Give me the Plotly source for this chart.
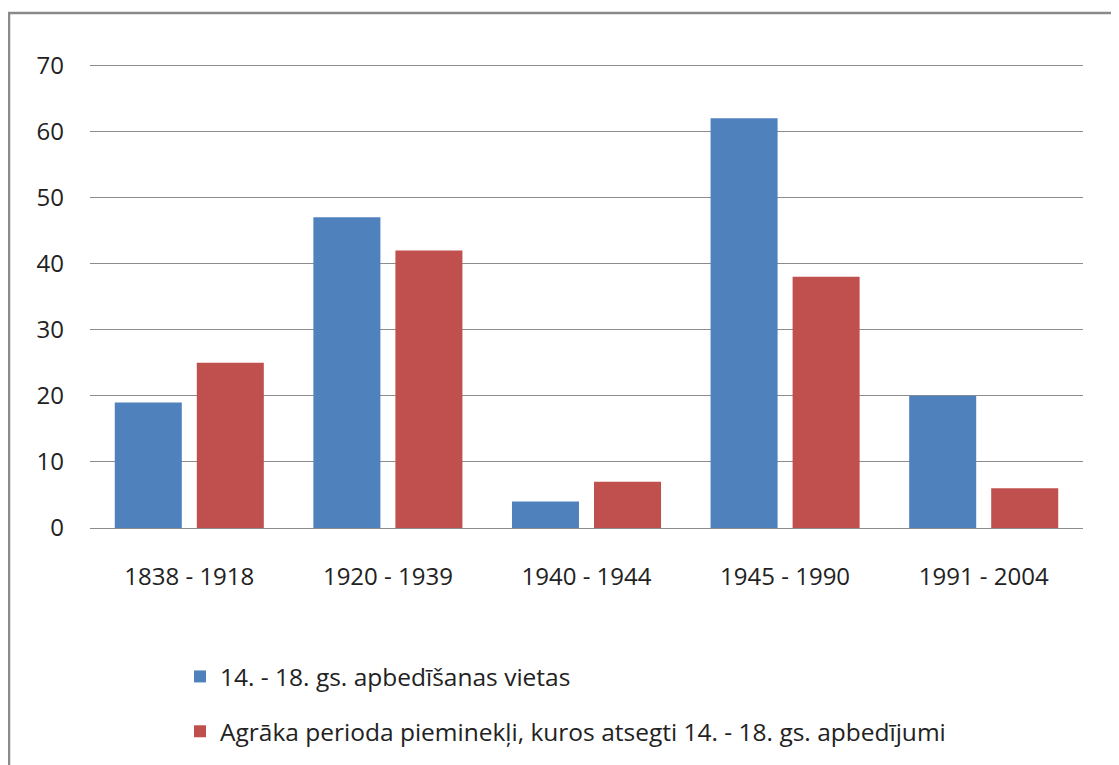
import plotly.graph_objects as go

categories = ["1838 - 1918", "1920 - 1939", "1940 - 1944", "1945 - 1990", "1991 - 2004"]
series1_name = "14. - 18. gs. apbedīšanas vietas"
series1_values = [19, 47, 4, 62, 20]
series2_name = "Agrāka perioda pieminekļi, kuros atsegti 14. - 18. gs. apbedījumi"
series2_values = [25, 42, 7, 38, 6]
y_ticks = [0, 10, 20, 30, 40, 50, 60, 70]

# page body has an 8px margin, so figure coords = screenshot coords - 8
W, H = 1111, 757
L, R, T, B = 82, 1075, 54, 520
pw, ph = R - L, B - T

def px(x):
    return (x - L) / pw

def py(y):
    return (B - y) / ph

FONT = "Open Sans"

fig = go.Figure()
fig.add_trace(go.Bar(x=categories, y=series1_values, name=series1_name, legendgroup="a",
                     marker=dict(color="#4F81BD", line=dict(width=0))))
fig.add_trace(go.Bar(x=categories, y=series2_values, name=series2_name, legendgroup="b",
                     marker=dict(color="#C0504D", line=dict(width=0))))

fig.update_layout(
    width=W, height=H,
    margin=dict(l=L, r=W - R, t=T, b=H - B, autoexpand=False),
    paper_bgcolor="white", plot_bgcolor="white",
    barmode="group", bargap=0.174, bargroupgap=0.183,
    font=dict(family=FONT, size=24, color="#222222"),
    showlegend=True,
    legend=dict(x=px(172), y=py(646), xanchor="left", yanchor="top",
                orientation="v", font=dict(size=24.5, family=FONT, color="#222222"),
                tracegroupgap=20, bgcolor="rgba(0,0,0,0)"),
    xaxis=dict(showgrid=False, showline=False, ticks="", tickfont=dict(size=24),
               ticklabelstandoff=32),
    yaxis=dict(range=[0, 70.5], tickvals=y_ticks, showgrid=True, gridcolor="#8c8c8c",
               gridwidth=1, zeroline=True, zerolinecolor="#8c8c8c", zerolinewidth=1,
               showline=False, ticks="", tickfont=dict(size=24), ticklabelstandoff=25),
    shapes=[dict(type="rect", xref="paper", yref="paper",
                 x0=px(1), x1=px(1130), y0=py(5), y1=py(780),
                 line=dict(color="#8a8a8a", width=2.5), fillcolor="rgba(0,0,0,0)",
                 layer="below")],
)

fig.write_html("out.html")
